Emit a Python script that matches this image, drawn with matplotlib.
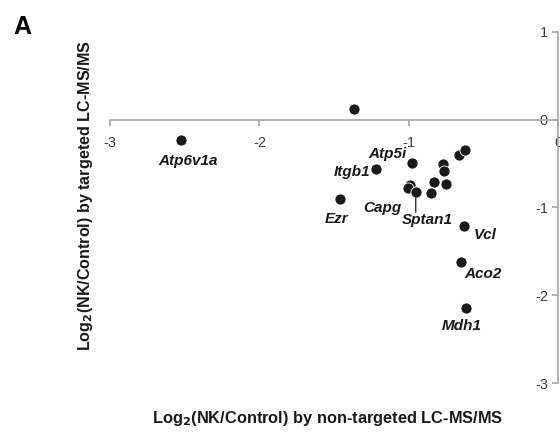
import matplotlib.pyplot as plt

plt.rcParams['font.family'] = ['Liberation Sans', 'DejaVu Sans']

# log2 ratios, non-targeted (x) vs targeted (y)
x_nontarg = [-2.525, -1.368, -1.221, -1.462, -0.980, -0.993, -1.009, -0.955, -0.853,
             -0.831, -0.753, -0.771, -0.766, -0.664, -0.623, -0.630, -0.654, -0.619]
y_targ = [-0.233, 0.116, -0.568, -0.907, -0.491, -0.744, -0.782, -0.827, -0.839,
          -0.714, -0.736, -0.509, -0.585, -0.403, -0.347, -1.210, -1.619, -2.139]
names = ['Atp6v1a', '', 'Itgb1', 'Ezr', 'Atp5i', 'Capg', '', 'Sptan1', '',
         '', '', '', '', '', '', 'Vcl', 'Aco2', 'Mdh1']

# label placement (pixel offsets, alignment)
lab_style = {
    'Atp6v1a': ((7, -21), 'center'),
    'Itgb1': ((-6, -3), 'right'),
    'Atp5i': ((-5, 9), 'right'),
    'Ezr': ((-3, -20), 'center'),
    'Capg': ((-9, -23), 'right'),
    'Sptan1': ((12, -28), 'center'),
    'Vcl': ((9, -9), 'left'),
    'Aco2': ((4, -12), 'left'),
    'Mdh1': ((-4, -18), 'center'),
}

fig = plt.figure(figsize=(5.6, 4.34), dpi=100)
ax = fig.add_axes([0.1964, 0.1164, 0.8009, 0.811])

ax.plot(x_nontarg, y_targ, 'o', ms=8, color='#1a1a1a', mec='white', mew=0.6,
        clip_on=False, zorder=3)

for xi, yi, nm in zip(x_nontarg, y_targ, names):
    if not nm:
        continue
    off, ha = lab_style[nm]
    ax.annotate(nm, (xi, yi), xytext=off, textcoords='offset pixels',
                ha=ha, va='center', fontsize=11, fontweight='bold',
                fontstyle='italic', color='#1a1a1a')

# leader line for Sptan1
i = names.index('Sptan1')
ax.annotate('', (x_nontarg[i], y_targ[i]), xytext=(0, -20),
            textcoords='offset pixels',
            arrowprops=dict(arrowstyle='-', color='#333333', lw=1,
                            shrinkA=0, shrinkB=4))

ax.set_xlim(-3, 0)
ax.set_ylim(-3, 1)
ax.set_xticks([-3, -2, -1, 0])
ax.set_yticks([1, 0, -1, -2, -3])
ax.set_xticklabels(['-3', '-2', '-1', '0'])
ax.set_yticklabels(['1', '0', '-1', '-2', '-3'])

ax.spines['left'].set_position(('data', 0))
ax.spines['bottom'].set_position(('data', 0))
ax.spines['top'].set_visible(False)
ax.spines['right'].set_visible(False)
for s in ['left', 'bottom']:
    ax.spines[s].set_color('#a6a6a6')
    ax.spines[s].set_linewidth(1.2)
ax.tick_params(colors='#a6a6a6', labelcolor='#404040', labelsize=10.5,
               length=4, width=1.2, direction='out')
ax.tick_params(axis='x', pad=8)
ax.patch.set_visible(False)

fig.text(0.585, 0.035, r'Log$_\mathbf{2}$(NK/Control) by non-targeted LC-MS/MS',
         ha='center', va='center', fontsize=11.8, fontweight='bold', color='#1a1a1a')
fig.text(0.152, 0.55, r'Log$_\mathbf{2}$(NK/Control) by targeted LC-MS/MS',
         ha='center', va='center', rotation=90, fontsize=11.6,
         fontweight='bold', color='#1a1a1a')
fig.text(0.023, 0.965, 'A', ha='left', va='top', fontsize=18, fontweight='bold')

fig.savefig('out.png', dpi=100)
